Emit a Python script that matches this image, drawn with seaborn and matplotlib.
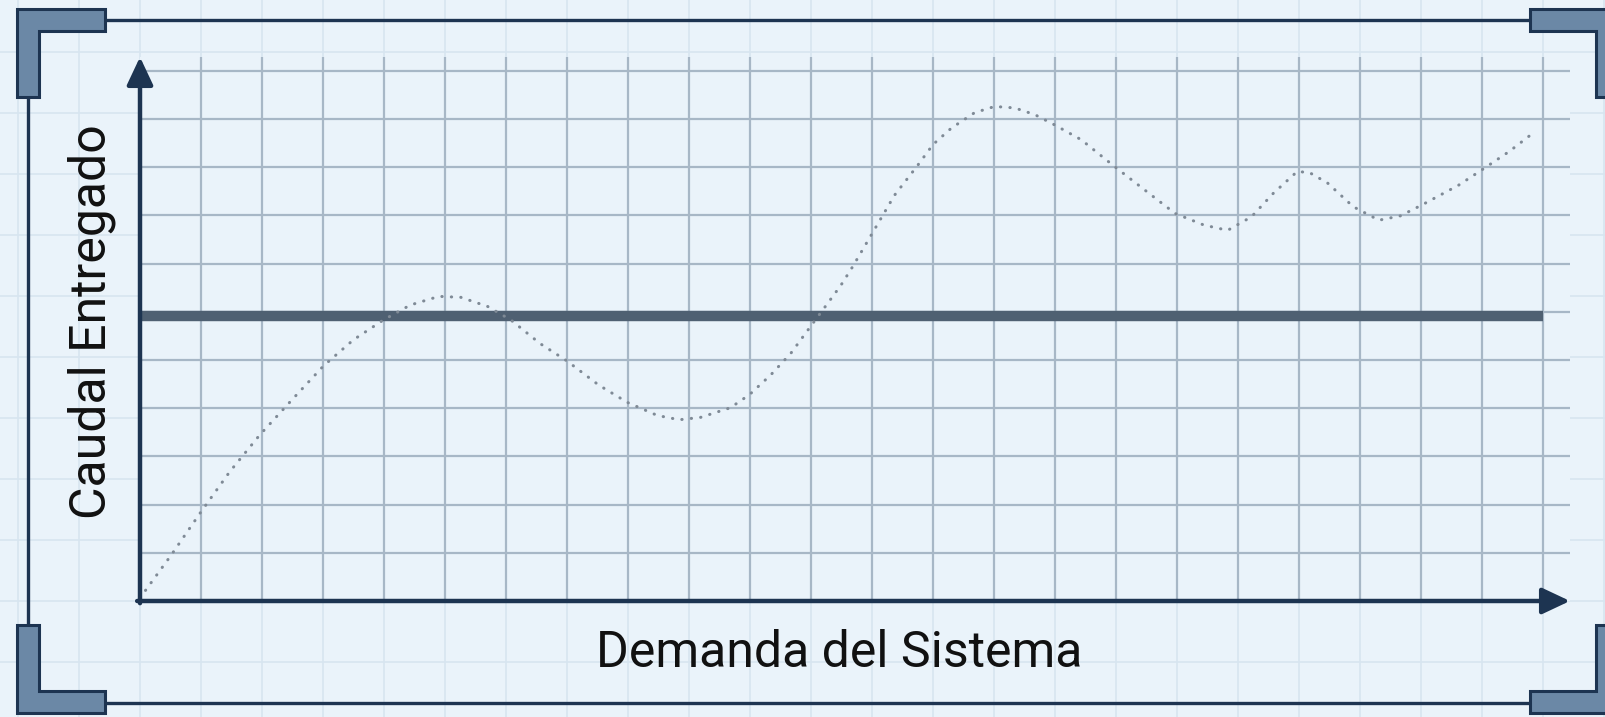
import numpy as np
import pandas as pd
import matplotlib
matplotlib.use('Agg')
import matplotlib.pyplot as plt
from matplotlib.patches import Polygon
import seaborn as sns

# datos (unidades de cuadricula)
demanda = [0.09, 0.51, 1.0, 1.47, 1.96, 2.51, 3.01, 3.5, 3.99, 4.43, 4.9, 5.26, 5.7, 6.08,
           6.56, 7.0, 7.52, 7.99, 8.48, 8.84, 9.19, 9.68, 9.99, 10.34, 10.67, 11.03, 11.27,
           11.49, 11.68, 12.0, 12.37, 12.75, 13.0, 13.3, 13.68, 14.01, 14.34, 14.67, 14.99,
           15.43, 15.98, 16.58, 16.97, 17.44, 17.83, 18.22, 18.58, 18.97, 19.17, 19.47,
           19.89, 20.31, 20.66, 21.02, 21.62, 22.04, 22.45, 22.87]
caudal = [0.22, 0.95, 1.85, 2.68, 3.44, 4.20, 4.88, 5.42, 5.83, 6.14, 6.32, 6.30, 6.11, 5.83,
          5.34, 4.98, 4.48, 4.12, 3.85, 3.76, 3.81, 4.01, 4.28, 4.69, 5.14, 5.76, 6.17,
          6.55, 6.93, 7.62, 8.42, 9.04, 9.47, 9.81, 10.13, 10.26, 10.23, 10.09, 9.88,
          9.57, 9.01, 8.42, 8.04, 7.80, 7.69, 7.97, 8.46, 8.91, 8.89, 8.67,
          8.18, 7.90, 7.99, 8.22, 8.63, 8.98, 9.33, 9.74]
nivel_constante = 5.92
fin_constante = 23.0
titulo_x = 'Demanda del Sistema'
titulo_y = 'Caudal Entregado'

df = pd.DataFrame({'demanda': demanda, 'caudal': caudal})

# colores
fondo = '#EAF3FA'
azul = '#1D3451'
relleno = '#6B88A6'
rejilla = '#A7B7C6'
rejilla_suave = '#D7E5F0'

sns.set_style('white')
plt.rcParams['font.family'] = ['Roboto', 'DejaVu Sans']

W, H = 1605, 717
fig = plt.figure(figsize=(W / 100, H / 100), dpi=100)
fig.patch.set_facecolor(fondo)

# capa de fondo en pixeles: cuadricula suave, marco y esquinas
bg = fig.add_axes([0, 0, 1, 1])
bg.set_xlim(0, W)
bg.set_ylim(H, 0)
bg.axis('off')
bg.set_facecolor(fondo)
for xv in np.arange(140 - 61 * 3, W + 61, 61):
    bg.axvline(xv, color=rejilla_suave, lw=1.2, zorder=0)
for yv in np.arange(601 + 61 * 2, -61, -61):
    bg.axhline(yv, color=rejilla_suave, lw=1.2, zorder=0)

bg.add_patch(plt.Rectangle((28, 20), 1607 - 28, 703 - 20, fill=False, ec=azul, lw=2.4, zorder=2))


def esquina(x0, y0, sx, sy, brazo=88, grosor=22):
    pts = [(x0, y0), (x0 + sx * brazo, y0), (x0 + sx * brazo, y0 + sy * grosor),
           (x0 + sx * grosor, y0 + sy * grosor), (x0 + sx * grosor, y0 + sy * brazo),
           (x0, y0 + sy * brazo)]
    bg.add_patch(Polygon(pts, closed=True, fc=relleno, ec=azul, lw=2.2, zorder=3))


esquina(17, 9, 1, 1)
esquina(1618, 9, -1, 1)
esquina(17, 713, 1, -1)
esquina(1618, 713, -1, -1)

# ejes principales
ax = fig.add_axes([140 / W, (H - 601) / H, 1430 / W, 544 / H])
ax.set_facecolor(fondo)
ax.set_xlim(0, 1430 / 61)
ax.set_ylim(0, 544 / 48.2)
ax.set_xticks(range(1, 24))
ax.set_yticks(range(1, 12))
ax.tick_params(length=0, labelbottom=False, labelleft=False)
ax.grid(True, color=rejilla, lw=1.6)
ax.set_axisbelow(True)
for s in ax.spines.values():
    s.set_visible(False)

ax.hlines(nivel_constante, 0, fin_constante, color='#4F6072', lw=7.5, zorder=3)

sns.lineplot(data=df, x='demanda', y='caudal', ax=ax, color='#7F8A96', lw=2.2,
             linestyle=(0, (0.1, 3.0)), zorder=4)
ax.lines[-1].set_dash_capstyle('round')
ax.set_xlabel('')
ax.set_ylabel('')

flecha = dict(arrowstyle='-|>,head_length=0.85,head_width=0.4', lw=3.2, color=azul,
              mutation_scale=20, shrinkA=0, shrinkB=0)
ax.annotate('', xy=(0, 1), xytext=(0, -0.004), xycoords='axes fraction',
            arrowprops=flecha, annotation_clip=False, zorder=5)
ax.annotate('', xy=(1, 0), xytext=(-0.002, 0), xycoords='axes fraction',
            arrowprops=flecha, annotation_clip=False, zorder=5)

fig.text(839 / W, 1 - 667 / H, titulo_x, ha='center', va='baseline', fontsize=36, color='#111111')
fig.text(106 / W, 1 - 322 / H, titulo_y, ha='center', va='baseline', rotation=90,
         rotation_mode='anchor', fontsize=36, color='#111111')

fig.savefig('out.png', dpi=100, facecolor=fondo)
